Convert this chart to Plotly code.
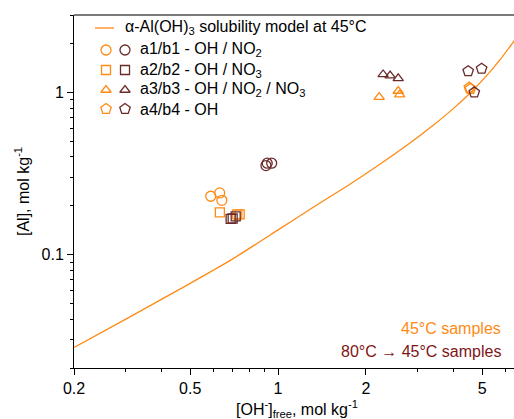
import plotly.graph_objects as go

# Solubility model curve for alpha-Al(OH)3 at 45 C
oh_model = [0.2, 0.3, 0.476, 0.7, 1.0, 1.32, 1.72, 2.2, 2.8, 3.4, 4.0, 4.6, 5.2, 5.8, 6.6]
al_model = [0.0268, 0.0399, 0.0633, 0.0942, 0.142, 0.196, 0.264, 0.354, 0.480,
            0.627, 0.80, 1.01, 1.277, 1.615, 2.21]

# 45 C samples (a) and 80 C -> 45 C samples (b)
a1_oh = [0.588, 0.631, 0.642]
a1_al = [0.229, 0.240, 0.216]
b1_oh = [0.909, 0.918, 0.951]
b1_al = [0.354, 0.366, 0.366]

a2_oh = [0.632, 0.725, 0.739]
a2_al = [0.182, 0.177, 0.177]
b2_oh = [0.688, 0.699, 0.716]
b2_al = [0.166, 0.167, 0.172]

a3_oh = [2.22, 2.58, 2.61]
a3_al = [0.935, 1.02, 0.97]
b3_oh = [2.29, 2.42, 2.58]
b3_al = [1.29, 1.27, 1.22]

a4_oh = [4.52, 4.56]
a4_al = [1.07, 1.05]
b4_oh = [4.48, 4.98, 4.70]
b4_al = [1.35, 1.40, 1.00]

legend_labels = [
    "a1/b1 - OH / NO<sub>2</sub>",
    "a2/b2 - OH / NO<sub>3</sub>",
    "a3/b3 - OH / NO<sub>2</sub> / NO<sub>3</sub>",
    "a4/b4 - OH",
]
model_label = "α-Al(OH)<sub>3</sub> solubility model at 45°C"

x_ticks = [0.2, 0.5, 1, 2, 5]
x_minor = [0.3, 0.4, 0.6, 0.7, 0.8, 0.9, 3, 4, 6]
y_ticks = [0.1, 1]
y_minor = [0.02, 0.03, 0.04, 0.05, 0.06, 0.07, 0.08, 0.09,
           0.2, 0.3, 0.4, 0.5, 0.6, 0.7, 0.8, 0.9, 2, 3]

ORANGE = "#FF8A14"
BROWN = "#6B2A2A"
DARKRED = "#7E1515"
FONT = "Liberation Sans, Arial, sans-serif"

symbols = ["circle-open", "square-open", "triangle-up-open", "pentagon-open"]
sizes = [10, 9, 9, 11]

fig = go.Figure()

fig.add_trace(go.Scatter(
    x=oh_model, y=al_model, mode="lines",
    line=dict(color=ORANGE, width=1.3, shape="spline", smoothing=0.6),
    hoverinfo="skip", showlegend=False,
))

series = [
    (a1_oh, a1_al, b1_oh, b1_al),
    (a2_oh, a2_al, b2_oh, b2_al),
    (a3_oh, a3_al, b3_oh, b3_al),
    (a4_oh, a4_al, b4_oh, b4_al),
]
for (ax_, ay_, bx_, by_), sym, sz in zip(series, symbols, sizes):
    fig.add_trace(go.Scatter(
        x=ax_, y=ay_, mode="markers",
        marker=dict(symbol=sym, size=sz, color=ORANGE, line=dict(color=ORANGE, width=1.3)),
        showlegend=False,
    ))
    fig.add_trace(go.Scatter(
        x=bx_, y=by_, mode="markers",
        marker=dict(symbol=sym, size=sz, color=BROWN, line=dict(color=BROWN, width=1.3)),
        showlegend=False,
    ))

# Hand-built key in the upper left, drawn on a hidden overlay axis in [0, 1]
W, H, L, T = 440.0, 353.0, 74.0, 15.0


def px(x):
    return (x - L) / W


def py(y):
    return (T + H - y) / H


row_y = [50, 70, 90, 109]
for yy, sym, sz in zip(row_y, symbols, sizes):
    for xx, col in ((106, ORANGE), (125, BROWN)):
        fig.add_trace(go.Scatter(
            x=[px(xx)], y=[py(yy)], xaxis="x2", yaxis="y2", mode="markers",
            marker=dict(symbol=sym, size=sz, color=col, line=dict(color=col, width=1.3)),
            showlegend=False, hoverinfo="skip",
        ))

fig.add_shape(type="line", xref="paper", yref="paper",
              x0=px(95), x1=px(114), y0=py(28), y1=py(28),
              line=dict(color=ORANGE, width=1.3))

annotations = [
    dict(text=model_label, x=px(123), y=py(28), xanchor="left", yanchor="middle",
         font=dict(size=16, color="black")),
]
for yy, lab in zip(row_y, legend_labels):
    annotations.append(dict(text=lab, x=px(138), y=py(yy), xanchor="left",
                            yanchor="middle", font=dict(size=16, color="black")))

annotations += [
    dict(text="45°C samples", x=px(503), y=py(328), xanchor="right", yanchor="middle",
         font=dict(size=16, color=ORANGE)),
    dict(text="80°C → 45°C samples", x=px(503), y=py(351), xanchor="right",
         yanchor="middle", font=dict(size=16, color=DARKRED)),
    dict(text="[OH<sup>-</sup>]<sub>free</sub>, mol kg<sup>-1</sup>", x=px(297), y=py(409),
         xanchor="center", yanchor="middle", font=dict(size=16, color="black")),
    dict(text="[Al], mol kg<sup>-1</sup>", x=px(22), y=py(192), textangle=-90,
         xanchor="center", yanchor="middle", font=dict(size=16, color="black")),
]
for a in annotations:
    a.update(xref="paper", yref="paper", showarrow=False)

# Grey frame line along the top of the plot area
fig.add_shape(type="line", xref="paper", yref="paper", x0=0, x1=1, y0=1, y1=1,
              line=dict(color="#7a7a7a", width=2))

fig.update_layout(
    width=514, height=419,
    margin=dict(l=74, r=0, t=15, b=51),
    paper_bgcolor="white", plot_bgcolor="white",
    font=dict(family=FONT, size=16, color="black"),
    annotations=annotations,
    showlegend=False,
    xaxis=dict(
        type="log", range=[-0.69897, 0.8082],
        tickvals=x_ticks, ticktext=[str(v) for v in x_ticks],
        ticks="outside", ticklen=6, tickwidth=1, tickcolor="black",
        showline=True, linecolor="black", linewidth=1,
        showgrid=False, zeroline=False,
        minor=dict(tickvals=x_minor, ticks="outside", ticklen=3, tickcolor="black",
                   showgrid=False),
        tickfont=dict(size=16),
    ),
    yaxis=dict(
        type="log", range=[-1.69897, 0.4771],
        tickvals=y_ticks, ticktext=["0.1", "1"],
        ticks="outside", ticklen=6, tickwidth=1, tickcolor="black",
        showline=True, linecolor="black", linewidth=1,
        showgrid=False, zeroline=False,
        minor=dict(tickvals=y_minor, ticks="outside", ticklen=3, tickcolor="black",
                   showgrid=False),
        tickfont=dict(size=16),
    ),
    xaxis2=dict(overlaying="x", range=[0, 1], visible=False, fixedrange=True),
    yaxis2=dict(overlaying="y", range=[0, 1], visible=False, fixedrange=True),
)

fig.write_html("out.html")
